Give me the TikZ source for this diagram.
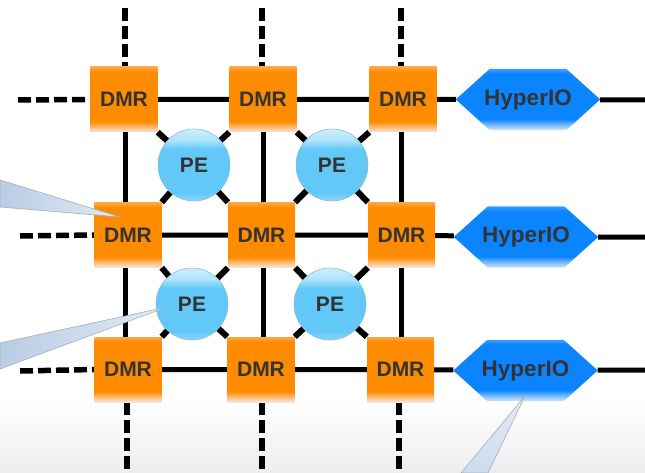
\documentclass[tikz,border=0pt]{standalone}
\usepackage{fontspec}
\setmainfont{Liberation Sans}
\usetikzlibrary{calc}

\pgfdeclarelayer{back}
\pgfdeclarelayer{mid}
\pgfdeclarelayer{front}
\pgfsetlayers{back,mid,main,front}

\definecolor{txt}{HTML}{333333}
\definecolor{orng}{HTML}{FF8C00}
\definecolor{orngtop}{HTML}{FFA640}
\definecolor{orngfade}{HTML}{FFB870}
\definecolor{ornglow}{HTML}{F4E6DA}
\definecolor{pebody}{HTML}{62C8F8}
\definecolor{pelow}{HTML}{8CD6F8}
\definecolor{petop}{HTML}{CDEFFD}
\definecolor{peedge}{HTML}{8DBBD6}
\definecolor{hxbody}{HTML}{0A84FF}
\definecolor{hxtop}{HTML}{3C9EFF}
\definecolor{hxfade}{HTML}{6DB4FA}
\definecolor{hxlow}{HTML}{D6E6F5}
\definecolor{calA}{HTML}{B9CDE5}
\definecolor{calB}{HTML}{E2EAF4}
\definecolor{caledge}{HTML}{A3AFBD}
\definecolor{bggray}{HTML}{EDEDED}

% bottom -> top colour ramps (25bp..75bp covers the shaded path)
\pgfdeclareverticalshading{dmrshade}{100bp}{color(0bp)=(ornglow); color(25bp)=(ornglow);
  color(29bp)=(orngfade); color(33bp)=(orng); color(71bp)=(orng); color(75bp)=(orngtop); color(100bp)=(orngtop)}
\pgfdeclareverticalshading{peshade}{100bp}{color(0bp)=(pelow); color(25bp)=(pelow);
  color(31bp)=(pebody); color(61bp)=(pebody); color(67bp)=(petop!70!pebody); color(75bp)=(petop); color(100bp)=(petop)}
\pgfdeclareverticalshading{hxshade}{100bp}{color(0bp)=(hxlow); color(25bp)=(hxlow);
  color(30bp)=(hxfade); color(34bp)=(hxbody); color(71bp)=(hxbody); color(75bp)=(hxtop); color(100bp)=(hxtop)}

\tikzset{
  x=1pt, y=-1pt,
  labelfont/.style={font=\fontsize{21}{24}\selectfont\bfseries, text=txt},
  dmr/.style={rectangle, minimum width=67pt, minimum height=65pt, inner sep=0pt,
    shade, shading=dmrshade, labelfont},
  pe/.style={circle, minimum size=72pt, inner sep=0pt, shade, shading=peshade,
    draw=peedge, line width=0.6pt, labelfont},
  hyper/.style={rectangle, minimum width=144pt, minimum height=61pt, inner sep=0pt,
    labelfont, font=\fontsize{22.5}{26}\selectfont\bfseries},
  link/.style={line width=5pt, black},
  diag/.style={line width=6pt, black},
  stub/.style={line width=5.5pt, black, dash pattern=on 13pt off 5pt},
  callout/.style={draw=caledge, line width=0.6pt},
}

\begin{document}
\begin{tikzpicture}
\useasboundingbox (0,0) rectangle (645,473);

% page background with a soft grey floor
\begin{pgfonlayer}{back}
  \fill[white] (0,0) rectangle (645,473);
  \shade[top color=white, bottom color=bggray] (0,400) rectangle (645,473);
\end{pgfonlayer}

% DMR routers
\node[dmr] (r1c1) at (124,99.5) {DMR};
\node[dmr] (r1c2) at (263,99.5) {DMR};
\node[dmr] (r1c3) at (403,99.5) {DMR};
\node[dmr] (r2c1) at (128,235) {DMR};
\node[dmr] (r2c2) at (261.5,235) {DMR};
\node[dmr] (r2c3) at (401.5,235) {DMR};
\node[dmr] (r3c1) at (128,369.5) {DMR};
\node[dmr] (r3c2) at (261,369.5) {DMR};
\node[dmr] (r3c3) at (400.5,369.5) {DMR};

% processing elements
\node[pe] (p11) at (194,165) {PE};
\node[pe] (p12) at (332,165) {PE};
\node[pe] (p21) at (192,304) {PE};
\node[pe] (p22) at (330,304) {PE};

% HyperIO ports
\node[hyper] (h1) at (528,99.5) {HyperIO};
\node[hyper] (h2) at (526,237) {HyperIO};
\node[hyper] (h3) at (525.5,370.5) {HyperIO};

\begin{pgfonlayer}{mid}
  \foreach \h in {h1,h2,h3}{
    \shade[shading=hxshade]
      (\h.west) -- ($(\h.north west)+(34,0)$) -- ($(\h.north east)+(-34,0)$)
      -- (\h.east) -- ($(\h.south east)+(-34,0)$) -- ($(\h.south west)+(34,0)$) -- cycle;
  }
\end{pgfonlayer}

% column axes and free ends of the mesh
\coordinate (cx1) at (125,0);
\coordinate (cx2) at (263,0);
\coordinate (cx3) at (401,0);
\coordinate (l1) at (18,100);
\coordinate (l2) at (20,236);
\coordinate (l3) at (20,371);
\coordinate (t1) at (125,8);
\coordinate (t2) at (262,8);
\coordinate (t3) at (401,8);
\coordinate (b1) at (127,470);
\coordinate (b2) at (262,470);
\coordinate (b3) at (399,470);
\coordinate (e1) at (645,100);
\coordinate (e2) at (645,237);
\coordinate (e3) at (645,370);

\begin{pgfonlayer}{back}
  % mesh links
  \foreach \r in {1,2,3}{
    \draw[link] (r\r c1) -- (r\r c2) -- (r\r c3) -- (h\r) -- (e\r);
    \draw[stub] (l\r) -- (r\r c1.west);
  }
  \foreach \c in {1,2,3}{
    \draw[link] (r1c\c -| cx\c) -- (r3c\c -| cx\c);
    \draw[stub] (t\c) -- (t\c |- r1c\c.north);
    \draw[stub] (b\c |- r3c\c.south) -- (b\c);
  }
  % PE to router links
  \draw[diag] (p11.center) -- (r1c1.south east);
  \draw[diag] (p11.center) -- (r1c2.south west);
  \draw[diag] (p11.center) -- (r2c1.north east);
  \draw[diag] (p11.center) -- (r2c2.north west);
  \draw[diag] (p12.center) -- (r1c2.south east);
  \draw[diag] (p12.center) -- (r1c3.south west);
  \draw[diag] (p12.center) -- (r2c2.north east);
  \draw[diag] (p12.center) -- (r2c3.north west);
  \draw[diag] (p21.center) -- (r2c1.south east);
  \draw[diag] (p21.center) -- (r2c2.south west);
  \draw[diag] (p21.center) -- (r3c1.north east);
  \draw[diag] (p21.center) -- (r3c2.north west);
  \draw[diag] (p22.center) -- (r2c2.south east);
  \draw[diag] (p22.center) -- (r2c3.south west);
  \draw[diag] (p22.center) -- (r3c2.north east);
  \draw[diag] (p22.center) -- (r3c3.north west);
\end{pgfonlayer}

% callout pointers
\begin{pgfonlayer}{front}
  \path[callout, left color=calA, right color=calB]
    (0,180) -- (120,217) -- (0,207) -- cycle;
  \path[callout, left color=calA, right color=calB]
    (0,343) -- (167,307) -- (0,369) -- cycle;
  \path[callout, bottom color=calA!70!white, top color=calB]
    (525,396) -- (488,473) -- (461,473) -- cycle;
\end{pgfonlayer}
\end{tikzpicture}
\end{document}
